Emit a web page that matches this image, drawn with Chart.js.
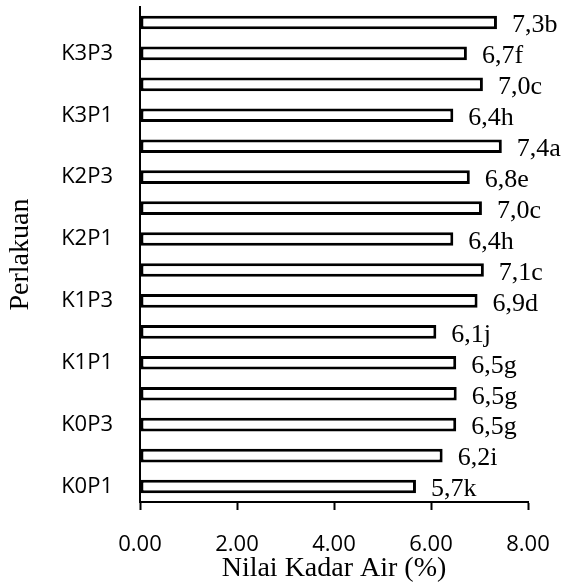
<!DOCTYPE html>
<html lang="id">
<head>
    <meta charset="UTF-8">
    <title>Nilai Kadar Air</title>
    <style>
        * { margin: 0; padding: 0; box-sizing: border-box; }
        body { background: #fff; width: 564px; height: 588px; overflow: hidden; }
        .chart-box { position: relative; width: 564px; height: 588px; }
    </style>
    <script src="https://cdn.jsdelivr.net/npm/chart.js"></script>
</head>
<body>

<div class="chart-box">
    <canvas id="kadarAirChart" width="564" height="588"></canvas>
</div>

<script>
    // Data (bottom to top)
    const perlakuan = ['K0P1', 'K0P2', 'K0P3', 'K0P4', 'K1P1', 'K1P2', 'K1P3', 'K1P4',
                       'K2P1', 'K2P2', 'K2P3', 'K2P4', 'K3P1', 'K3P2', 'K3P3', 'K3P4'];
    const kadarAir = [5.69, 6.24, 6.52, 6.53, 6.52, 6.11, 6.96, 7.09,
                      6.46, 7.05, 6.80, 7.46, 6.46, 7.07, 6.74, 7.36];
    const labelNilai = ['5,7k', '6,2i', '6,5g', '6,5g', '6,5g', '6,1j', '6,9d', '7,1c',
                        '6,4h', '7,0c', '6,8e', '7,4a', '6,4h', '7,0c', '6,7f', '7,3b'];
    const xTicks = [0, 2, 4, 6, 8];

    // value labels at the end of each bar
    const barLabels = {
        id: 'barLabels',
        afterDatasetsDraw(chart) {
            const ctx = chart.ctx;
            const meta = chart.getDatasetMeta(0);
            ctx.save();
            ctx.font = '26px "Liberation Serif", "Times New Roman", serif';
            ctx.fillStyle = '#000';
            ctx.textAlign = 'left';
            ctx.textBaseline = 'middle';
            meta.data.forEach((bar, i) => {
                ctx.fillText(labelNilai[i], bar.x + 15, bar.y + 3);
            });
            ctx.restore();
        }
    };

    const ctx = document.getElementById('kadarAirChart').getContext('2d');
    new Chart(ctx, {
        type: 'bar',
        data: {
            labels: perlakuan,
            datasets: [{
                data: kadarAir,
                backgroundColor: '#fff',
                borderColor: '#000',
                borderWidth: 3,
                borderSkipped: false,
                barPercentage: 0.44,
                categoryPercentage: 1
            }]
        },
        options: {
            indexAxis: 'y',
            responsive: false,
            animation: false,
            layout: { padding: { top: 7, right: 36, bottom: 0, left: 0 } },
            plugins: {
                legend: { display: false },
                tooltip: { enabled: false }
            },
            scales: {
                x: {
                    min: 0,
                    max: 8,
                    afterBuildTicks: (scale) => { scale.ticks = xTicks.map(v => ({ value: v })); },
                    afterFit: (scale) => {
                        scale.height = 86;
                        scale.paddingLeft = 0;
                        scale.paddingRight = 0;
                    },
                    grid: { drawOnChartArea: false, drawTicks: true, tickLength: 8, tickColor: '#000', tickWidth: 2 },
                    border: { color: '#000', width: 2 },
                    ticks: {
                        color: '#000',
                        padding: 22,
                        maxRotation: 0,
                        font: { family: '"Open Sans", sans-serif', size: 22 },
                        callback: (v) => Number(v).toFixed(2)
                    },
                    title: {
                        display: true,
                        text: 'Nilai Kadar Air (%)',
                        color: '#000',
                        font: { family: '"Liberation Serif", serif', size: 28 },
                        padding: { top: 0, bottom: 3 }
                    }
                },
                y: {
                    reverse: true,
                    afterFit: (scale) => {
                        scale.width = 140;
                        scale.paddingTop = 0;
                        scale.paddingBottom = 0;
                    },
                    grid: { display: true, drawOnChartArea: false, drawTicks: false },
                    border: { color: '#000', width: 2 },
                    ticks: {
                        color: '#000',
                        padding: 27,
                        autoSkip: false,
                        font: { family: '"Open Sans", sans-serif', size: 22 },
                        callback: function (v, i) { return i % 2 === 0 ? this.getLabelForValue(v) : ''; }
                    },
                    title: {
                        display: true,
                        text: 'Perlakuan',
                        color: '#000',
                        font: { family: '"Liberation Serif", serif', size: 28 },
                        padding: { top: 4, bottom: 0 }
                    }
                }
            }
        },
        plugins: [barLabels]
    });
</script>

</body>
</html>
